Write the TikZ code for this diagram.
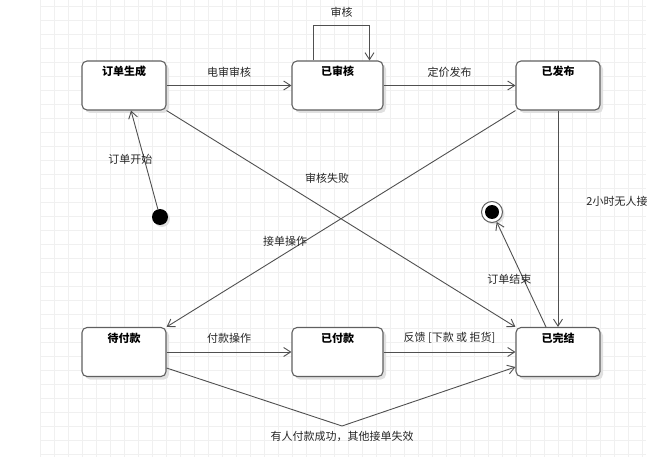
\documentclass[tikz,border=0pt]{standalone}
\usepackage{fontspec}
\setmainfont{Noto Sans CJK SC}
\usetikzlibrary{arrows.meta,shadows}
\definecolor{linegray}{HTML}{505050}
\definecolor{boxgray}{HTML}{606060}
\definecolor{gridgray}{HTML}{F0F0F0}
\tikzset{
  statebox/.style={draw=boxgray, line width=1.1pt, fill=white, rounded corners=5pt,
    minimum width=84pt, inner xsep=4pt, inner ysep=5pt, text height=10pt, text depth=29pt,
    font=\fontsize{11}{13}\selectfont\bfseries,
    drop shadow={shadow xshift=3pt, shadow yshift=-3pt, fill=black!12, opacity=1}},
  trans/.style={draw=linegray, line width=0.9pt, -{Straight Barb[length=7pt,width=9pt]}},
  translabel/.style={font=\fontsize{11}{13}\selectfont, text=black!85, inner sep=1pt}
}
\begin{document}
\begin{tikzpicture}[x=1pt, y=-1pt]
        \useasboundingbox (0,0) rectangle (669,457);

        % background grid
        \foreach \gx in {40,54,...,646} \draw[gridgray, line width=0.6pt] (\gx,0) -- (\gx,457);
        \foreach \gy in {6,20,...,457} \draw[gridgray, line width=0.6pt] (40,\gy) -- (646,\gy);

        \node[statebox] (created) at (124,85.5) {订单生成};
        \node[statebox, minimum width=91pt] (audited) at (337.5,85.5) {已审核};
        \node[statebox] (published) at (558,85.5) {已发布};
        \node[statebox] (unpaid) at (124,352) {待付款};
        \node[statebox, minimum width=91pt] (paid) at (337.5,352) {已付款};
        \node[statebox] (finished) at (558,352) {已完结};

        \node[circle, fill=black, minimum size=16pt, inner sep=0pt,
          drop shadow={shadow xshift=2pt, shadow yshift=-2pt, fill=black!12, opacity=1}] (init) at (160,217) {};
        \node[circle, draw=boxgray, fill=white, minimum size=21pt, inner sep=0pt, line width=1pt,
          drop shadow={shadow xshift=2pt, shadow yshift=-2pt, fill=black!12, opacity=1}] (final) at (492,212) {};
        \fill[black] (final) circle (7pt);

        \draw[trans] (init) -- ([xshift=7pt]created.south)
          node[translabel, midway, xshift=-14pt] {订单开始};
        \draw[trans] (created) -- (audited) node[translabel, midway, above=7pt] {电审审核};
        \draw[trans] ([xshift=-24pt]audited.north) -- ++(0,-35)
          -| node[translabel, pos=0.25, above=7pt] {审核} ([xshift=32pt]audited.north);
        \draw[trans] (audited) -- (published) node[translabel, midway, above=7pt] {定价发布};

        \begin{scope}
          \clip (0,0) rectangle (646,457);
          \draw[trans] (published) -- (finished) node[translabel, pos=0.42, right=27pt] {2小时无人接};
        \end{scope}

        \draw[trans] (published.south west) -- (unpaid.north east)
          node[translabel, pos=0.66, above=6pt] {接单操作};
        \draw[trans] (created.south east) -- (finished.north west)
          node[translabel, pos=0.46, above=25pt] {审核失败};
        \draw[trans] ([xshift=-12pt]finished.north) -- (final)
          node[translabel, midway, xshift=-12pt, yshift=-5pt] {订单结束};

        \draw[trans] (unpaid) -- (paid) node[translabel, midway, above=7pt] {付款操作};
        \draw[trans] (paid) -- (finished) node[translabel, midway, above=7pt] {反馈 [下款 或 拒货]};

        \coordinate (vee) at (342,426);
        \draw[trans] ([yshift=-16pt]unpaid.east) -- (vee) -- ([yshift=-15pt]finished.west);
        \node[translabel, below=4pt] at (vee) {有人付款成功，其他接单失效};
    \end{tikzpicture}
\end{document}
